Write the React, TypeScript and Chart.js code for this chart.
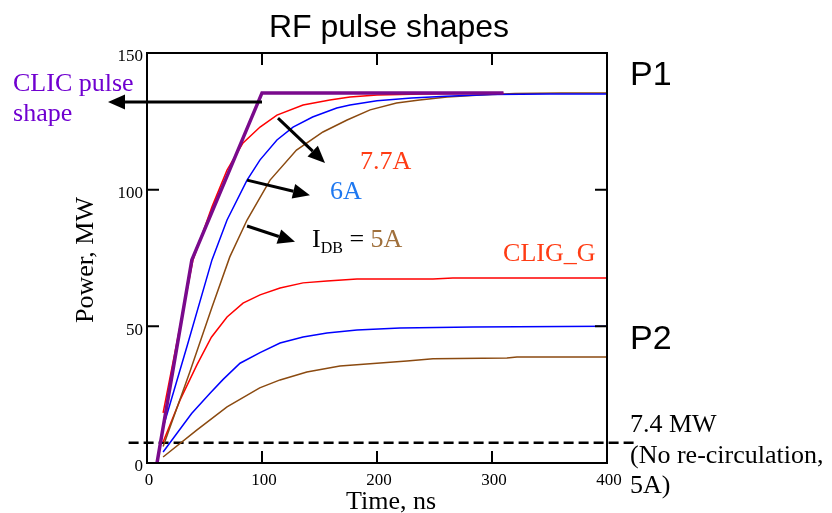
import React, { useEffect, useRef } from 'react';
import { Chart, registerables } from 'chart.js';

Chart.register(...registerables);

// ---- Axis ticks ----
const xTicks = [0, 100, 200, 300, 400];
const yTicks = [0, 50, 100, 150];

// ---- CLIC pulse shape (purple) ----
const clicT = [8.7, 39, 100, 310];
const clicP = [0, 74.3, 135.4, 135.4];

// ---- P1 curves (RF power at output) ----
const red1T = [14, 40, 56.5, 69.6, 83.5, 98.3, 113, 135.7, 159, 176.5, 200, 240, 280, 310];
const red1P = [18.3, 74.3, 93.7, 107.2, 117.1, 122.9, 127.3, 131, 132.8, 133.9, 134.6, 135, 135.2, 135.3];

const blue1T = [14, 35, 56.5, 69.6, 87, 98.3, 113, 127, 144, 165, 176.5, 200, 230, 260, 300, 350, 400];
const blue1P = [13, 43, 74.3, 88.9, 103.5, 110.9, 118.2, 122.9, 126.6, 129.9, 131, 132.5, 133.5, 134.2, 134.8, 135, 135];

const brown1T = [14, 37, 56.5, 72, 87, 107, 130, 153, 174, 194, 217, 237, 261, 290, 320, 360, 400];
const brown1P = [6, 33, 57, 75.4, 88.9, 103.5, 114.5, 121.1, 125.5, 129.2, 131.7, 132.8, 133.9, 134.6, 135.2, 135.4, 135.4];

// ---- P2 curves ----
const red2T = [14, 28.7, 43.5, 56, 69.6, 83.5, 98.3, 115.7, 135.7, 156.5, 182.6, 248.7, 266, 400];
const red2P = [7.7, 23, 36, 46, 53.4, 58.5, 61.5, 64, 65.9, 66.6, 67.3, 67.3, 67.7, 67.7];

const blue2T = [14, 38.8, 54.8, 66, 80.9, 98.3, 115.7, 135.7, 156.5, 182.6, 220, 283.5, 400];
const blue2P = [4, 18.1, 25.5, 30.5, 36.5, 40.4, 43.9, 46.1, 47.6, 48.7, 49.4, 49.8, 50];

const brown2T = [14, 43.5, 69.6, 98, 115.7, 139, 167.8, 226, 248.7, 313, 321.7, 400];
const brown2P = [2.2, 12.1, 20.5, 27.5, 30.4, 33.3, 35.5, 37.3, 38.1, 38.4, 38.8, 38.8];

// ---- 7.4 MW reference (no re-circulation) ----
const refT = [-16, 424];
const refP = [7.4, 7.4];

// ---- Annotation arrows (data coordinates: [t1, P1, t2, P2]) ----
const arrows = [
  [100, 132.1, -33.9, 132.1],
  [113.9, 126.2, 154.8, 109.8],
  [87, 103.5, 141.7, 98.0],
  [87, 86.7, 128.7, 80.9],
];

const RED = '#ff0000';
const BLUE = '#0000ff';
const BROWN = '#8b4a10';
const PURPLE = '#7a0a8c';
const TXT_RED = '#ff3c14';
const TXT_BLUE = '#1e78f0';
const TXT_BROWN = '#a0703c';
const TXT_PURPLE = '#7000d0';
const SERIF = '"Liberation Serif", "Times New Roman", serif';
const SANS = '"Liberation Sans", Arial, sans-serif';

const pts = (t: number[], p: number[]) => t.map((x, i) => ({ x, y: p[i] }));

function drawArrow(ctx: CanvasRenderingContext2D, x1: number, y1: number, x2: number, y2: number) {
  const head = 17, hw = 7.5;
  const ang = Math.atan2(y2 - y1, x2 - x1);
  const bx = x2 - head * Math.cos(ang), by = y2 - head * Math.sin(ang);
  ctx.lineWidth = 3;
  ctx.beginPath();
  ctx.moveTo(x1, y1);
  ctx.lineTo(bx, by);
  ctx.stroke();
  ctx.beginPath();
  ctx.moveTo(x2, y2);
  ctx.lineTo(bx + hw * Math.sin(ang), by - hw * Math.cos(ang));
  ctx.lineTo(bx - hw * Math.sin(ang), by + hw * Math.cos(ang));
  ctx.closePath();
  ctx.fill();
}

const overlay = {
  id: 'overlay',
  afterDraw(chart: any) {
    const { ctx, chartArea: a, scales } = chart;
    const xs = scales.x, ys = scales.y;
    const px = (v: number) => xs.getPixelForValue(v);
    const py = (v: number) => ys.getPixelForValue(v);
    ctx.save();
    // frame
    ctx.strokeStyle = '#000';
    ctx.lineWidth = 2;
    ctx.strokeRect(a.left, a.top, a.right - a.left, a.bottom - a.top);
    // inner ticks
    ctx.lineWidth = 2;
    ctx.beginPath();
    xTicks.slice(1, -1).forEach((v) => {
      const X = px(v);
      ctx.moveTo(X, a.bottom); ctx.lineTo(X, a.bottom - 12);
      ctx.moveTo(X, a.top); ctx.lineTo(X, a.top + 12);
    });
    yTicks.slice(1, -1).forEach((v) => {
      const Y = py(v);
      ctx.moveTo(a.left, Y); ctx.lineTo(a.left + 12, Y);
      ctx.moveTo(a.right, Y); ctx.lineTo(a.right - 12, Y);
    });
    ctx.stroke();

    // arrows
    ctx.fillStyle = '#000';
    ctx.strokeStyle = '#000';
    arrows.forEach(([t1, p1, t2, p2]) => drawArrow(ctx, px(t1), py(p1), px(t2), py(p2)));

    // title
    ctx.textBaseline = 'alphabetic';
    ctx.textAlign = 'center';
    ctx.fillStyle = '#000';
    ctx.font = `32px ${SANS}`;
    ctx.fillText('RF pulse shapes', 389, 37);

    // axis titles
    ctx.font = `26px ${SERIF}`;
    ctx.fillText('Time, ns', 391, 509);
    ctx.save();
    ctx.translate(93, 260);
    ctx.rotate(-Math.PI / 2);
    ctx.fillText('Power, MW', 0, 0);
    ctx.restore();

    // labels
    ctx.textAlign = 'left';
    ctx.font = `26px ${SERIF}`;
    ctx.fillStyle = TXT_PURPLE;
    ctx.fillText('CLIC pulse', px(-116.5), py(136.1));
    ctx.fillText('shape', px(-116.5), py(125.1));

    ctx.fillStyle = TXT_RED;
    ctx.fillText('7.7A', px(185.2), py(107.6));
    ctx.fillText('CLIG_G', px(309.6), py(73.9));

    ctx.fillStyle = TXT_BLUE;
    ctx.fillText('6A', px(159.1), py(96.6));

    // I_DB = 5A
    let cx = px(143.5);
    const by = py(79.0);
    ctx.fillStyle = '#000';
    ctx.fillText('I', cx, by);
    cx += ctx.measureText('I').width;
    ctx.font = `16px ${SERIF}`;
    ctx.fillText('DB', cx, by + 6);
    cx += ctx.measureText('DB').width;
    ctx.font = `26px ${SERIF}`;
    ctx.fillText(' = ', cx, by);
    cx += ctx.measureText(' = ').width;
    ctx.fillStyle = TXT_BROWN;
    ctx.fillText('5A', cx, by);

    // P1 / P2
    ctx.fillStyle = '#000';
    ctx.font = `34px ${SANS}`;
    ctx.fillText('P1', px(420), py(138.3));
    ctx.fillText('P2', px(420), py(41.7));

    // 7.4 MW note
    ctx.font = `26px ${SERIF}`;
    ctx.fillText('7.4 MW', px(420), py(11.3));
    ctx.fillText('(No re-circulation,', px(420), py(0));
    ctx.fillText('5A)', px(420), py(-11));
    ctx.restore();
  },
};

export default function App() {
  const ref = useRef<HTMLCanvasElement>(null);
  useEffect(() => {
    if (!ref.current) return;
    const line = (data: any, color: string, width: number, extra: any = {}) => ({
      data, borderColor: color, backgroundColor: color, borderWidth: width,
      pointRadius: 0, tension: 0, fill: false, ...extra,
    });
    const chart = new Chart(ref.current, {
      type: 'line',
      data: {
        datasets: [
          line(pts(clicT, clicP), PURPLE, 3.5),
          line(pts(red1T, red1P), RED, 1.5),
          line(pts(blue1T, blue1P), BLUE, 1.5),
          line(pts(brown1T, brown1P), BROWN, 1.5),
          line(pts(red2T, red2P), RED, 1.5),
          line(pts(blue2T, blue2P), BLUE, 1.5),
          line(pts(brown2T, brown2P), BROWN, 1.5),
          line(pts(refT, refP), '#000', 2.5, { borderDash: [10, 5], clip: false }),
        ],
      },
      options: {
        responsive: false,
        devicePixelRatio: 1,
        animation: false,
        parsing: true,
        layout: { padding: { left: 0, top: 53, right: 225, bottom: 0 } },
        plugins: { legend: { display: false }, tooltip: { enabled: false }, title: { display: false } },
        scales: {
          x: {
            type: 'linear', min: 0, max: 400,
            afterFit: (s: any) => { s.height = 50; },
            afterBuildTicks: (s: any) => { s.ticks = xTicks.map((v) => ({ value: v })); },
            grid: { display: false, drawTicks: false },
            border: { display: false },
            ticks: { color: '#000', font: { family: SERIF, size: 17 }, padding: 7, labelOffset: 2, maxRotation: 0 },
          },
          y: {
            type: 'linear', min: 0, max: 150,
            afterFit: (s: any) => { s.width = 147; },
            afterBuildTicks: (s: any) => { s.ticks = yTicks.map((v) => ({ value: v })); },
            grid: { display: false, drawTicks: false },
            border: { display: false },
            ticks: { color: '#000', font: { family: SERIF, size: 17 }, padding: 4, labelOffset: 4 },
          },
        },
      },
      plugins: [overlay],
    });
    return () => chart.destroy();
  }, []);
  return (
    <div style={{ position: 'absolute', left: 0, top: 0, width: 832, height: 513, background: '#fff' }}>
      <canvas ref={ref} width={832} height={513} style={{ display: 'block' }} />
    </div>
  );
}
